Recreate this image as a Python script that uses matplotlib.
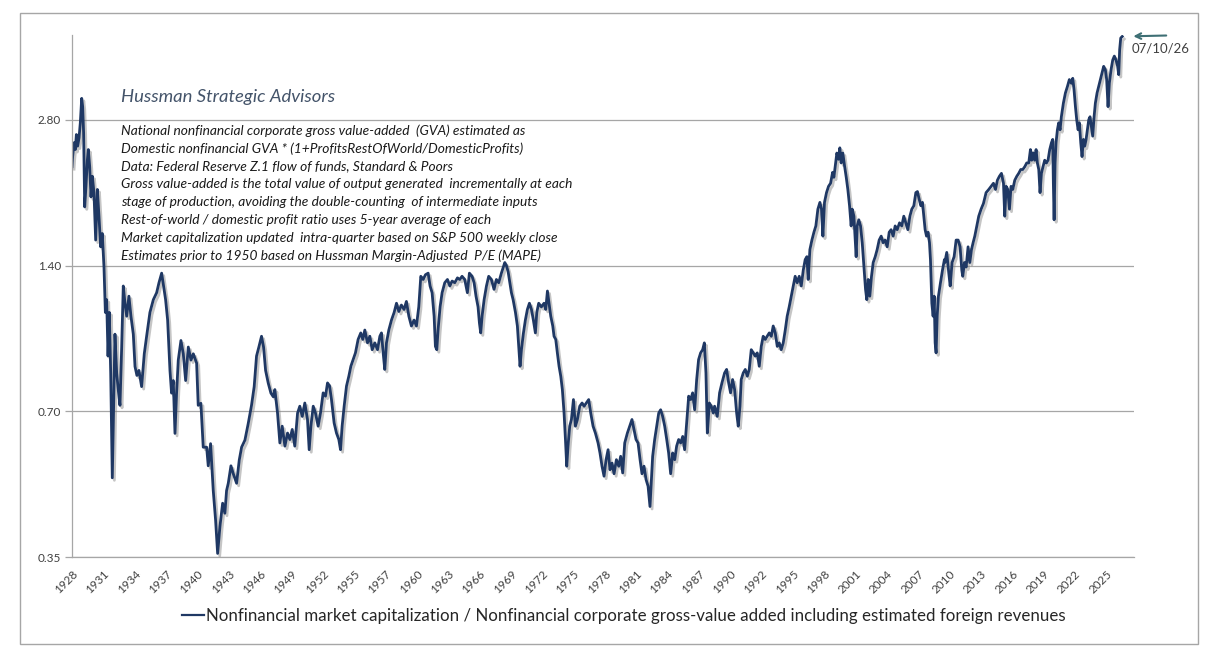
import matplotlib
matplotlib.use("Agg")
from matplotlib import pyplot as plt
from matplotlib import patheffects
from matplotlib.patches import Rectangle
from matplotlib.ticker import FixedLocator, NullLocator

# Values (decimal year, ratio)
years = [
    # 1928-1946
    1928.00, 1928.06, 1928.19, 1928.31, 1928.41, 1928.53, 1928.66, 1928.78, 1928.91, 1929.00,
    1929.09, 1929.19, 1929.31, 1929.44, 1929.53, 1929.66, 1929.78, 1929.91, 1930.06, 1930.22,
    1930.38, 1930.53, 1930.69, 1930.84, 1931.00, 1931.13, 1931.25, 1931.38, 1931.50, 1931.63,
    1931.78, 1931.91, 1932.03, 1932.19, 1932.34, 1932.50, 1932.66, 1932.81, 1932.97, 1933.13,
    1933.34, 1933.53, 1933.75, 1933.91, 1934.09, 1934.28, 1934.53, 1934.78, 1935.00, 1935.31,
    1935.63, 1935.94, 1936.16, 1936.41, 1936.59, 1936.78, 1936.97, 1937.19, 1937.34, 1937.50,
    1937.66, 1937.81, 1937.97, 1938.22, 1938.44, 1938.66, 1938.91, 1939.16, 1939.38, 1939.69,
    1939.84, 1940.09, 1940.31, 1940.63, 1940.78, 1941.00, 1941.25, 1941.47, 1941.66, 1941.88,
    1942.13, 1942.34, 1942.50, 1942.66, 1942.91, 1943.13, 1943.44, 1943.69, 1943.91, 1944.22,
    1944.53, 1944.84, 1945.09, 1945.31, 1945.53, 1945.78, 1945.97, 1946.16, 1946.41, 1946.66,
    1946.88,
    # 1947-1968
    1947.03, 1947.28, 1947.50, 1947.72, 1947.97, 1948.22, 1948.44, 1948.66, 1948.90, 1949.16,
    1949.37, 1949.60, 1949.84, 1950.09, 1950.25, 1950.41, 1950.63, 1950.84, 1951.09, 1951.31,
    1951.56, 1951.78, 1951.97, 1952.16, 1952.34, 1952.59, 1952.81, 1953.03, 1953.19, 1953.34,
    1953.53, 1953.75, 1953.97, 1954.16, 1954.38, 1954.59, 1954.84, 1955.09, 1955.28, 1955.47,
    1955.72, 1955.94, 1956.16, 1956.41, 1956.66, 1956.88, 1957.03, 1957.19, 1957.34, 1957.50,
    1957.72, 1957.97, 1958.22, 1958.44, 1958.66, 1958.90, 1959.15, 1959.37, 1959.60, 1959.84,
    1960.09, 1960.31, 1960.53, 1960.72, 1960.94, 1961.16, 1961.41, 1961.59, 1961.78, 1961.97,
    1962.09, 1962.22, 1962.34, 1962.53, 1962.72, 1962.97, 1963.22, 1963.44, 1963.66, 1963.91,
    1964.16, 1964.38, 1964.59, 1964.84, 1965.09, 1965.28, 1965.53, 1965.72, 1965.90, 1966.09,
    1966.22, 1966.34, 1966.47, 1966.66, 1966.88, 1967.09, 1967.34, 1967.59, 1967.81, 1968.03,
    1968.28,
    # 1968-1988
    1968.60, 1968.75, 1968.91, 1969.07, 1969.22, 1969.38, 1969.60, 1969.78, 1969.91, 1970.03,
    1970.16, 1970.35, 1970.53, 1970.72, 1970.91, 1971.10, 1971.28, 1971.47, 1971.60, 1971.78,
    1972.03, 1972.28, 1972.44, 1972.60, 1972.75, 1972.91, 1973.10, 1973.22, 1973.38, 1973.53,
    1973.69, 1973.85, 1974.00, 1974.16, 1974.29, 1974.41, 1974.53, 1974.69, 1974.85, 1975.04,
    1975.22, 1975.41, 1975.63, 1975.85, 1976.04, 1976.25, 1976.47, 1976.66, 1976.88, 1977.10,
    1977.35, 1977.53, 1977.72, 1977.91, 1978.10, 1978.29, 1978.47, 1978.66, 1978.85, 1979.07,
    1979.29, 1979.47, 1979.66, 1979.85, 1980.10, 1980.32, 1980.53, 1980.72, 1980.91, 1981.10,
    1981.29, 1981.47, 1981.66, 1981.85, 1982.04, 1982.22, 1982.35, 1982.47, 1982.66, 1982.85,
    1983.04, 1983.22, 1983.41, 1983.60, 1983.79, 1983.97, 1984.16, 1984.35, 1984.54, 1984.72,
    1984.91, 1985.10, 1985.29, 1985.47, 1985.66, 1985.85, 1986.04, 1986.22, 1986.41, 1986.60,
    1986.78, 1986.97, 1987.16, 1987.32, 1987.47, 1987.60, 1987.79, 1987.97, 1988.16,
    # 1988-2009
    1988.28, 1988.53, 1988.75, 1988.97, 1989.22, 1989.41, 1989.60, 1989.78, 1989.97, 1990.16,
    1990.35, 1990.50, 1990.66, 1990.78, 1990.97, 1991.16, 1991.35, 1991.53, 1991.72, 1991.91,
    1992.09, 1992.28, 1992.47, 1992.66, 1992.84, 1993.03, 1993.22, 1993.41, 1993.60, 1993.78,
    1993.97, 1994.16, 1994.35, 1994.53, 1994.72, 1994.91, 1995.09, 1995.28, 1995.47, 1995.66,
    1995.84, 1996.03, 1996.22, 1996.41, 1996.60, 1996.78, 1996.94, 1997.06, 1997.22, 1997.41,
    1997.60, 1997.78, 1997.97, 1998.16, 1998.31, 1998.44, 1998.59, 1998.78, 1998.97, 1999.16,
    1999.35, 1999.47, 1999.60, 1999.75, 1999.91, 2000.03, 2000.16, 2000.31, 2000.47, 2000.63,
    2000.78, 2000.94, 2001.09, 2001.19, 2001.35, 2001.47, 2001.56, 2001.66, 2001.81, 2001.97,
    2002.13, 2002.28, 2002.44, 2002.56, 2002.69, 2002.84, 2003.00, 2003.16, 2003.35, 2003.53,
    2003.72, 2003.91, 2004.09, 2004.28, 2004.47, 2004.66, 2004.84, 2005.03, 2005.22, 2005.41,
    2005.63, 2005.84, 2006.03, 2006.22, 2006.41, 2006.60, 2006.78, 2006.97, 2007.16, 2007.31,
    2007.47, 2007.63, 2007.78, 2007.91, 2008.03, 2008.16, 2008.31, 2008.44, 2008.53, 2008.66,
    2008.78, 2008.88, 2008.97, 2009.06, 2009.16, 2009.28, 2009.47, 2009.66, 2009.84,
    # 2009-2026
    2009.88, 2010.06, 2010.25, 2010.38, 2010.56, 2010.75, 2010.94, 2011.13, 2011.31, 2011.47,
    2011.56, 2011.72, 2011.88, 2012.06, 2012.22, 2012.38, 2012.53, 2012.69, 2012.88, 2013.06,
    2013.28, 2013.50, 2013.75, 2014.00, 2014.22, 2014.44, 2014.63, 2014.81, 2015.00, 2015.19,
    2015.38, 2015.50, 2015.63, 2015.78, 2015.94, 2016.09, 2016.25, 2016.44, 2016.63, 2016.81,
    2017.00, 2017.19, 2017.38, 2017.56, 2017.75, 2017.91, 2018.03, 2018.16, 2018.31, 2018.44,
    2018.56, 2018.69, 2018.81, 2018.94, 2019.09, 2019.25, 2019.41, 2019.56, 2019.72, 2019.88,
    2020.00, 2020.06, 2020.13, 2020.22, 2020.31, 2020.44, 2020.56, 2020.69, 2020.81, 2021.00,
    2021.19, 2021.38, 2021.56, 2021.75, 2021.88, 2022.00, 2022.13, 2022.25, 2022.38, 2022.50,
    2022.63, 2022.75, 2022.88, 2023.00, 2023.13, 2023.25, 2023.38, 2023.50, 2023.63, 2023.75,
    2023.88, 2024.00, 2024.16, 2024.31, 2024.47, 2024.63, 2024.78, 2024.94, 2025.06, 2025.19,
    2025.31, 2025.47, 2025.63, 2025.78, 2025.94, 2026.09, 2026.19, 2026.28, 2026.38, 2026.52,
]

ratio = [
    # 1928-1946
    2.24, 2.35, 2.51, 2.43, 2.61, 2.47, 2.57, 2.76, 3.10, 2.98,
    2.63, 1.85, 2.04, 2.31, 2.43, 2.24, 1.94, 2.14, 1.98, 1.58,
    2.01, 1.77, 1.53, 1.63, 1.39, 1.12, 1.19, 0.91, 1.12, 0.84,
    0.51, 0.72, 1.01, 0.84, 0.775, 0.72, 0.95, 1.27, 1.17, 1.10,
    1.21, 1.10, 1.01, 0.866, 0.83, 0.85, 0.787, 0.92, 1.00, 1.12,
    1.19, 1.23, 1.29, 1.35, 1.27, 1.19, 1.08, 0.85, 0.763, 0.81,
    0.63, 0.763, 0.893, 0.98, 0.92, 0.81, 0.95, 0.893, 0.92, 0.88,
    0.72, 0.727, 0.59, 0.59, 0.54, 0.60, 0.48, 0.417, 0.356, 0.405,
    0.452, 0.431, 0.48, 0.497, 0.54, 0.52, 0.497, 0.555, 0.59, 0.61,
    0.66, 0.72, 0.787, 0.91, 0.95, 1.00, 0.95, 0.85, 0.80, 0.763,
    0.75,
    # 1947-1968
    0.776, 0.694, 0.602, 0.652, 0.593, 0.631, 0.612, 0.642, 0.593, 0.694,
    0.717, 0.683, 0.728, 0.673, 0.583, 0.652, 0.717, 0.694, 0.652, 0.694,
    0.764, 0.752, 0.801, 0.79, 0.740, 0.662, 0.631, 0.612, 0.583, 0.652,
    0.717, 0.789, 0.827, 0.867, 0.895, 0.924, 0.985, 1.016, 0.985, 1.03,
    0.969, 1.00, 0.938, 0.969, 0.938, 1.00, 1.016, 0.924, 0.854, 0.969,
    1.03, 1.08, 1.12, 1.17, 1.125, 1.16, 1.136, 1.18, 1.10, 1.05,
    1.08, 1.05, 1.15, 1.33, 1.31, 1.34, 1.35, 1.27, 1.23, 1.10,
    0.953, 0.938, 1.03, 1.15, 1.23, 1.29, 1.31, 1.27, 1.30, 1.29,
    1.32, 1.31, 1.33, 1.31, 1.23, 1.35, 1.33, 1.29, 1.21, 1.15,
    1.065, 1.016, 1.10, 1.19, 1.27, 1.33, 1.31, 1.25, 1.31, 1.29,
    1.35,
    # 1968-1988
    1.42, 1.40, 1.36, 1.29, 1.23, 1.19, 1.12, 1.05, 0.953, 0.867,
    0.938, 1.016, 1.08, 1.136, 1.17, 1.136, 1.08, 1.016, 1.12, 1.17,
    1.15, 1.17, 1.136, 1.24, 1.17, 1.10, 1.05, 1.00, 0.985, 0.924,
    0.867, 0.827, 0.776, 0.694, 0.612, 0.539, 0.593, 0.652, 0.673, 0.740,
    0.652, 0.673, 0.717, 0.728, 0.717, 0.728, 0.740, 0.694, 0.652, 0.631,
    0.602, 0.574, 0.539, 0.514, 0.556, 0.583, 0.530, 0.547, 0.52, 0.556,
    0.539, 0.565, 0.522, 0.602, 0.631, 0.652, 0.673, 0.642, 0.612, 0.602,
    0.556, 0.52, 0.539, 0.506, 0.490, 0.445, 0.506, 0.565, 0.612, 0.652,
    0.694, 0.705, 0.683, 0.652, 0.612, 0.574, 0.52, 0.574, 0.556, 0.593,
    0.612, 0.602, 0.621, 0.583, 0.661, 0.752, 0.740, 0.764, 0.705, 0.814,
    0.895, 0.924, 0.938, 0.969, 0.840, 0.631, 0.728, 0.717, 0.694,
    # 1988-2009
    0.717, 0.683, 0.764, 0.801, 0.840, 0.854, 0.801, 0.764, 0.814, 0.776,
    0.694, 0.652, 0.717, 0.814, 0.840, 0.854, 0.827, 0.854, 0.938, 0.924,
    0.910, 0.924, 0.867, 0.953, 1.00, 0.985, 1.00, 1.016, 1.00, 1.05,
    1.016, 0.953, 0.969, 0.938, 0.969, 1.03, 1.10, 1.15, 1.21, 1.27,
    1.33, 1.29, 1.33, 1.27, 1.37, 1.44, 1.46, 1.31, 1.51, 1.58,
    1.64, 1.69, 1.83, 1.89, 1.83, 1.61, 1.89, 1.98, 2.04, 2.07,
    2.18, 2.13, 2.25, 2.39, 2.32, 2.45, 2.28, 2.39, 2.25, 2.13,
    2.01, 1.86, 1.69, 1.83, 1.77, 1.58, 1.46, 1.69, 1.74, 1.69,
    1.56, 1.40, 1.25, 1.19, 1.31, 1.21, 1.33, 1.42, 1.46, 1.51,
    1.58, 1.61, 1.56, 1.58, 1.53, 1.64, 1.66, 1.61, 1.69, 1.66,
    1.715, 1.69, 1.77, 1.715, 1.66, 1.77, 1.83, 1.86, 1.98, 1.99,
    1.92, 1.86, 1.89, 1.77, 1.66, 1.61, 1.64, 1.56, 1.44, 1.17,
    1.10, 1.21, 0.969, 0.924, 1.10, 1.21, 1.29, 1.37, 1.44,
    # 2009-2026
    1.42, 1.49, 1.35, 1.27, 1.42, 1.46, 1.58, 1.58, 1.53, 1.37,
    1.33, 1.42, 1.39, 1.53, 1.42, 1.51, 1.56, 1.61, 1.69, 1.77,
    1.83, 1.88, 1.98, 2.01, 2.04, 2.07, 2.01, 2.10, 2.14, 2.17,
    2.07, 1.77, 2.04, 2.01, 1.83, 2.04, 2.01, 2.10, 2.14, 2.17,
    2.21, 2.21, 2.24, 2.28, 2.28, 2.43, 2.31, 2.39, 2.31, 2.43,
    2.28, 2.21, 1.98, 2.17, 2.24, 2.31, 2.28, 2.31, 2.43, 2.51,
    2.55, 2.07, 1.74, 2.28, 2.51, 2.67, 2.76, 2.67, 2.84, 3.03,
    3.18, 3.28, 3.39, 3.33, 3.41, 3.23, 2.98, 2.80, 2.67, 2.76,
    2.51, 2.35, 2.55, 2.47, 2.55, 2.67, 2.80, 2.84, 2.71, 2.59,
    2.84, 3.03, 3.18, 3.28, 3.39, 3.50, 3.61, 3.55, 3.39, 2.98,
    3.33, 3.55, 3.72, 3.79, 3.72, 3.61, 3.47, 3.91, 4.13, 4.16,
]

y_ticks = [0.35, 0.70, 1.40, 2.80]
y_tick_labels = ["0.35", "0.70", "1.40", "2.80"]
x_tick_labels = ["1928", "1931", "1934", "1937", "1940", "1943", "1946", "1949", "1952",
                 "1955", "1957", "1960", "1963", "1966", "1969", "1972", "1975", "1978",
                 "1981", "1984", "1987", "1990", "1992", "1995", "1998", "2001", "2004",
                 "2007", "2010", "2013", "2016", "2019", "2022", "2025"]

notes = [
    "National nonfinancial corporate gross value-added  (GVA) estimated as",
    "Domestic nonfinancial GVA * (1+ProfitsRestOfWorld/DomesticProfits)",
    "Data: Federal Reserve Z.1 flow of funds, Standard & Poors",
    "Gross value-added is the total value of output generated  incrementally at each",
    "stage of production, avoiding the double-counting  of intermediate inputs",
    "Rest-of-world / domestic profit ratio uses 5-year average of each",
    "Market capitalization updated  intra-quarter based on S&P 500 weekly close",
    "Estimates prior to 1950 based on Hussman Margin-Adjusted  P/E (MAPE)",
]
series_label = ("Nonfinancial market capitalization / Nonfinancial corporate "
                "gross-value added including estimated foreign revenues")
last_date = "07/10/26"

plt.rcParams["font.family"] = ["Lato", "DejaVu Sans"]

W, H = 1213, 660
fig = plt.figure(figsize=(W / 100, H / 100), dpi=100)
ax = fig.add_axes([72 / W, 1 - 557 / H, (1134 - 72) / W, (557 - 35) / H])

navy = "#1F3864"
grid_gray = "#A6A6A6"

ax.plot(years, ratio, color=navy, lw=2.0, solid_joinstyle="round",
        path_effects=[patheffects.SimpleLineShadow(offset=(1.5, -1.8), shadow_color="#808080", alpha=0.45),
                      patheffects.Normal()])

ax.set_yscale("log")
ax.set_ylim(0.35, 4.19)
n = len(x_tick_labels)
span = 97.0
ax.set_xlim(1928.0, 1928.0 + (1134 - 72) / 10.66)
ax.yaxis.set_major_locator(FixedLocator(y_ticks))
ax.yaxis.set_minor_locator(NullLocator())
ax.set_yticklabels(y_tick_labels)
ax.set_xticks([1928.0 + i * span / (n - 1) for i in range(n)])
ax.set_xticklabels(x_tick_labels, rotation=45, ha="right", rotation_mode="anchor")

ax.grid(axis="y", color=grid_gray, lw=0.9)
ax.set_axisbelow(True)
for side in ["top", "right"]:
    ax.spines[side].set_visible(False)
for side in ["left", "bottom"]:
    ax.spines[side].set_color(grid_gray)
    ax.spines[side].set_linewidth(0.9)
ax.tick_params(axis="y", length=5, width=0.9, color=grid_gray, labelsize=8.5, labelcolor="#404040", pad=3)
ax.tick_params(axis="x", length=0, labelsize=8.5, labelcolor="#404040", pad=8)

# header and notes
fig.text(121 / W, 1 - 97 / H, "Hussman Strategic Advisors", fontsize=13.3, style="italic",
         color="#44546A", va="center", ha="left")
for i, line in enumerate(notes):
    fig.text(121 / W, 1 - (131 + i * 17.8) / H, line, fontsize=9.9, style="italic",
             color="#1A1A1A", va="center", ha="left")

# latest-value marker
ax.annotate("", xy=(years[-1], ratio[-1]), xytext=(44, 1), textcoords="offset pixels",
            arrowprops=dict(arrowstyle="->", color="#3E6F74", lw=1.5, shrinkA=0, shrinkB=8))
ax.annotate(last_date, xy=(years[-1], ratio[-1]), xytext=(9, -12), textcoords="offset pixels",
            fontsize=9.5, color="#404040", ha="left", va="center")

# legend
handle, = ax.plot([], [], color=navy, lw=1.6)
fig.legend([handle], [series_label], loc="center", bbox_to_anchor=(624 / W, 1 - 616 / H),
           frameon=False, fontsize=12.2, handlelength=1.3, handletextpad=0.1, labelcolor="#262626")

# outer border
fig.patches.append(Rectangle((20 / W, 1 - 644 / H), (1198 - 20) / W, (644 - 13) / H,
                             transform=fig.transFigure, fill=False, ec=grid_gray, lw=1))

fig.savefig("out.png", dpi=100, facecolor="white")
